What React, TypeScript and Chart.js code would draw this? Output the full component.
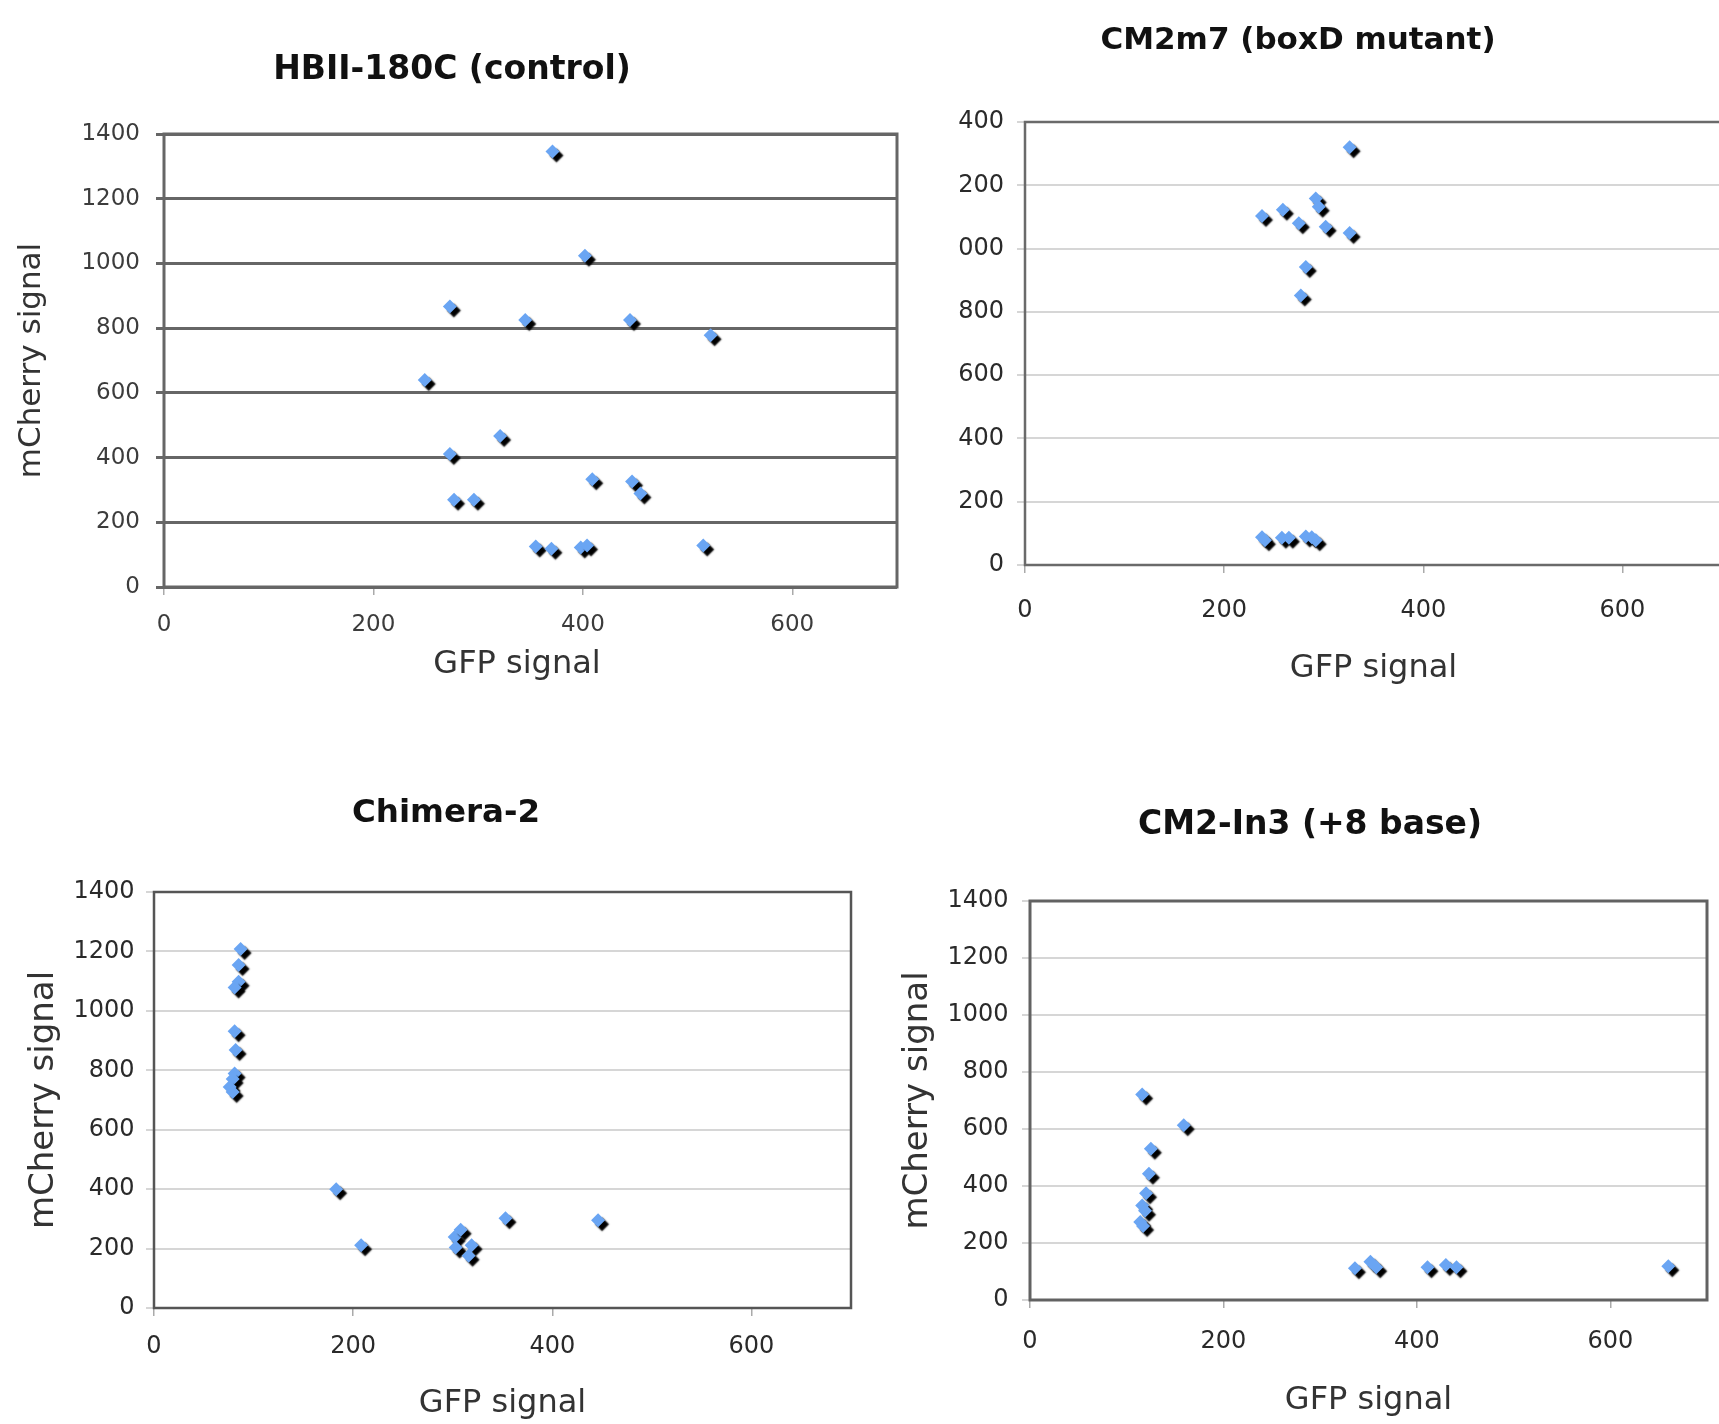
import { useEffect, useRef } from 'react';
import { Chart, registerables } from 'chart.js';

Chart.register(...registerables);

// ---------- data ----------
const hbiiGfp = [371, 402, 273, 345, 445, 522, 249, 321, 273, 277, 296, 409, 447, 455, 355, 370, 398, 404, 515];
const hbiiCherry = [1346, 1024, 867, 825, 825, 778, 640, 467, 411, 270, 270, 333, 326, 289, 125, 118, 122, 128, 128];

const cm2m7Gfp = [326, 238, 259, 275, 292, 295, 302, 326, 282, 277, 238, 241, 258, 265, 282, 288, 292];
const cm2m7Cherry = [1320, 1103, 1123, 1080, 1158, 1132, 1069, 1049, 942, 852, 88, 78, 86, 86, 90, 88, 78];

const chimeraGfp = [87, 85, 85, 81, 81, 82, 81, 79, 76, 79, 183, 208, 302, 308, 303, 319, 316, 353, 446];
const chimeraCherry = [1208, 1154, 1098, 1079, 931, 868, 789, 771, 744, 727, 400, 211, 239, 263, 204, 211, 176, 302, 295];

const in3Gfp = [116, 159, 125, 123, 120, 116, 119, 114, 117, 336, 352, 358, 411, 430, 441, 660];
const in3Cherry = [721, 613, 531, 443, 375, 332, 313, 274, 260, 111, 134, 115, 115, 123, 115, 118];

const xTickValues = [0, 200, 400, 600];
const xTickLabels = ['0', '200', '400', '600'];
const yTickValues = [0, 200, 400, 600, 800, 1000, 1200, 1400];
const yTickLabels = ['0', '200', '400', '600', '800', '1000', '1200', '1400'];

const chartTitles = ['HBII-180C (control)', 'CM2m7 (boxD mutant)', 'Chimera-2', 'CM2-In3 (+8 base)'];
const xAxisTitle = 'GFP signal';
const yAxisTitle = 'mCherry signal';

// ---------- styles ----------
const FONT = '"DejaVu Sans", Verdana, sans-serif';
const BLUE = '#6aa5f3';
const LH = 1.2;
const TICK_LEN = 8;

type Spec = {
  title: string;
  gfp: number[];
  cherry: number[];
  titleSize: number; xTitleSize: number; yTitleSize: number; tickSize: number;
  // canvas box (page coords)
  L: number; T: number; W: number; H: number;
  // targets (page coords)
  PL: number; PR: number; PT: number; PB: number;
  TX: number; TY: number; YX: number; YT: number; XT: number; XY: number;
  XX?: number; // custom x-title centre (drawn by plugin when given)
  gridColor: string; gridWidth: number;
  frameColor: string; frameWidth: number;
  tickColor: string;
  clipLeft?: number;
};

const specs: Spec[] = [
  {
    title: chartTitles[0], gfp: hbiiGfp, cherry: hbiiCherry,
    titleSize: 33, xTitleSize: 32, yTitleSize: 31, tickSize: 23,
    L: 0, T: 0, W: 904, H: 695,
    PL: 164, PR: 898, PT: 134, PB: 587,
    TX: 452, TY: 70, YX: 32, YT: 140, XT: 625, XY: 665, XX: 517,
    gridColor: '#666666', gridWidth: 3, frameColor: '#666666', frameWidth: 3,
    tickColor: '#3c3c3c',
  },
  {
    title: chartTitles[1], gfp: cm2m7Gfp, cherry: cm2m7Cherry,
    titleSize: 31, xTitleSize: 32, yTitleSize: 32, tickSize: 24,
    L: 880, T: 0, W: 849, H: 705,
    PL: 1025, PR: 1723, PT: 122, PB: 565,
    TX: 1298, TY: 41, YX: 915, YT: 1004, XT: 611, XY: 669,
    gridColor: '#d6d6d6', gridWidth: 2, frameColor: '#6a6a6a', frameWidth: 2.5,
    tickColor: '#2a2a2a', clipLeft: 958,
  },
  {
    title: chartTitles[2], gfp: chimeraGfp, cherry: chimeraCherry,
    titleSize: 32.5, xTitleSize: 32, yTitleSize: 34, tickSize: 24,
    L: 0, T: 720, W: 860, H: 704,
    PL: 154, PR: 851, PT: 892, PB: 1308,
    TX: 446, TY: 814, YX: 44, YT: 134.5, XT: 1347, XY: 1404,
    gridColor: '#d6d6d6', gridWidth: 2, frameColor: '#555555', frameWidth: 2.5,
    tickColor: '#2a2a2a',
  },
  {
    title: chartTitles[3], gfp: in3Gfp, cherry: in3Cherry,
    titleSize: 33, xTitleSize: 32, yTitleSize: 34, tickSize: 24,
    L: 900, T: 720, W: 819, H: 704,
    PL: 1030, PR: 1707, PT: 901, PB: 1300,
    TX: 1310, TY: 825, YX: 918, YT: 1008.5, XT: 1342, XY: 1401,
    gridColor: '#d6d6d6', gridWidth: 2, frameColor: '#626262', frameWidth: 3,
    tickColor: '#2a2a2a',
  },
];

const shadowPlugin = {
  id: 'markerShadow',
  beforeDatasetDraw(chart: any) {
    const c = chart.ctx;
    c.save();
    c.shadowColor = 'rgba(0,0,0,1)';
    c.shadowOffsetX = 4;
    c.shadowOffsetY = 4;
    c.shadowBlur = 1.5;
  },
  afterDatasetDraw(chart: any) {
    chart.ctx.restore();
  },
};

const framePlugin = {
  id: 'plotFrame',
  beforeDatasetsDraw(chart: any, _args: any, opts: any) {
    const { ctx, chartArea: a } = chart;
    ctx.save();
    ctx.strokeStyle = opts.color;
    ctx.lineWidth = opts.width;
    ctx.strokeRect(a.left, a.top, a.right - a.left, a.bottom - a.top);
    ctx.restore();
  },
};

// x-axis title placed at an explicit centre (used where the original title is off-centre)
const xTitlePlugin = {
  id: 'offsetXTitle',
  afterDraw(chart: any, _args: any, opts: any) {
    if (!opts || !opts.display) return;
    const { ctx } = chart;
    ctx.save();
    ctx.fillStyle = opts.color;
    ctx.font = `${opts.size}px ${FONT}`;
    ctx.textAlign = 'center';
    ctx.textBaseline = 'middle';
    ctx.fillText(opts.text, opts.x, opts.y);
    ctx.restore();
  },
};

function buildConfig(s: Spec): any {
  const pl = 2 * s.TX - s.PR - s.L;
  const pr = s.L + s.W - s.PR;
  const yw = s.PL - s.L - pl;
  const titleLH = s.titleSize * LH;
  const xAxisLH = s.xTitleSize * LH;
  const yAxisLH = s.yTitleSize * LH;
  const tickLH = s.tickSize * LH;
  const titleTop = s.TY - s.T - titleLH / 2;
  const titleBottom = s.PT - s.T - titleTop - titleLH;
  const xh = s.T + s.H - s.PB;
  const xTitlePb = s.T + s.H - s.XY - xAxisLH / 2;
  const xTickPad = s.XT - s.PB - TICK_LEN - tickLH / 2;
  const yTickPad = s.PL - TICK_LEN - s.YT;
  const yTitlePt = s.YX - (s.L + pl) - yAxisLH / 2;
  const customX = s.XX !== undefined;

  const points = s.gfp.map((x, i) => ({ x, y: s.cherry[i] }));

  return {
    type: 'scatter',
    data: {
      datasets: [
        {
          data: points,
          backgroundColor: BLUE,
          borderColor: BLUE,
          borderWidth: 0,
          pointStyle: 'rectRot',
          pointRadius: 7,
          pointHoverRadius: 7,
        },
      ],
    },
    plugins: [framePlugin, shadowPlugin, xTitlePlugin],
    options: {
      animation: false,
      responsive: false,
      maintainAspectRatio: false,
      events: [],
      layout: { padding: { left: pl, right: pr, top: 0, bottom: 0 } },
      plugins: {
        legend: { display: false },
        tooltip: { enabled: false },
        title: {
          display: true,
          text: s.title,
          color: '#111',
          font: { family: FONT, size: s.titleSize, weight: 'bold', lineHeight: LH },
          padding: { top: titleTop, bottom: titleBottom },
        },
        plotFrame: { color: s.frameColor, width: s.frameWidth },
        offsetXTitle: {
          display: customX,
          text: xAxisTitle,
          color: '#333',
          size: s.xTitleSize,
          x: customX ? (s.XX as number) - s.L : 0,
          y: s.XY - s.T,
        },
      },
      scales: {
        x: {
          type: 'linear',
          min: 0,
          max: 700,
          afterBuildTicks: (sc: any) => {
            sc.ticks = xTickValues.map((v) => ({ value: v }));
          },
          afterFit: (sc: any) => {
            sc.height = xh;
          },
          ticks: {
            color: s.tickColor,
            font: { family: FONT, size: s.tickSize, lineHeight: LH },
            padding: xTickPad,
            maxRotation: 0,
            callback: (v: number) => xTickLabels[xTickValues.indexOf(v)] ?? '',
          },
          grid: {
            drawOnChartArea: false,
            drawTicks: true,
            tickLength: TICK_LEN,
            tickColor: '#aaaaaa',
            lineWidth: 1.5,
          },
          border: { display: false },
          title: {
            display: !customX,
            text: xAxisTitle,
            color: '#333',
            font: { family: FONT, size: s.xTitleSize, lineHeight: LH },
            padding: { top: 0, bottom: xTitlePb },
          },
        },
        y: {
          type: 'linear',
          min: 0,
          max: 1400,
          afterBuildTicks: (sc: any) => {
            sc.ticks = yTickValues.map((v) => ({ value: v }));
          },
          afterFit: (sc: any) => {
            sc.width = yw;
          },
          ticks: {
            color: s.tickColor,
            font: { family: FONT, size: s.tickSize, lineHeight: LH },
            padding: yTickPad,
            callback: (v: number) => yTickLabels[yTickValues.indexOf(v)] ?? '',
          },
          grid: {
            color: s.gridColor,
            lineWidth: s.gridWidth,
            drawTicks: true,
            tickLength: TICK_LEN,
            tickColor: s.gridColor,
          },
          border: { display: false },
          title: {
            display: true,
            text: yAxisTitle,
            color: '#333',
            font: { family: FONT, size: s.yTitleSize, lineHeight: LH },
            padding: { top: yTitlePt, bottom: 0 },
          },
        },
      },
    },
  };
}

function Panel({ spec }: { spec: Spec }) {
  const ref = useRef<HTMLCanvasElement | null>(null);
  useEffect(() => {
    if (!ref.current) return;
    const chart = new Chart(ref.current, buildConfig(spec));
    return () => chart.destroy();
  }, [spec]);

  const clipped = spec.clipLeft !== undefined;
  const canvas = (
    <canvas
      ref={ref}
      width={spec.W}
      height={spec.H}
      style={{
        position: 'absolute',
        left: clipped ? spec.L - (spec.clipLeft as number) : spec.L,
        top: clipped ? 0 : spec.T,
        width: spec.W,
        height: spec.H,
      }}
    />
  );

  if (clipped) {
    return (
      <div
        style={{
          position: 'absolute',
          left: spec.clipLeft,
          top: spec.T,
          width: 1719 - (spec.clipLeft as number),
          height: spec.H,
          overflow: 'hidden',
        }}
      >
        {canvas}
      </div>
    );
  }
  return canvas;
}

export default function App() {
  return (
    <div
      style={{
        position: 'absolute',
        left: 0,
        top: 0,
        width: 1719,
        height: 1424,
        overflow: 'hidden',
        background: '#fff',
      }}
    >
      {specs.map((s, i) => (
        <Panel key={i} spec={s} />
      ))}
    </div>
  );
}
